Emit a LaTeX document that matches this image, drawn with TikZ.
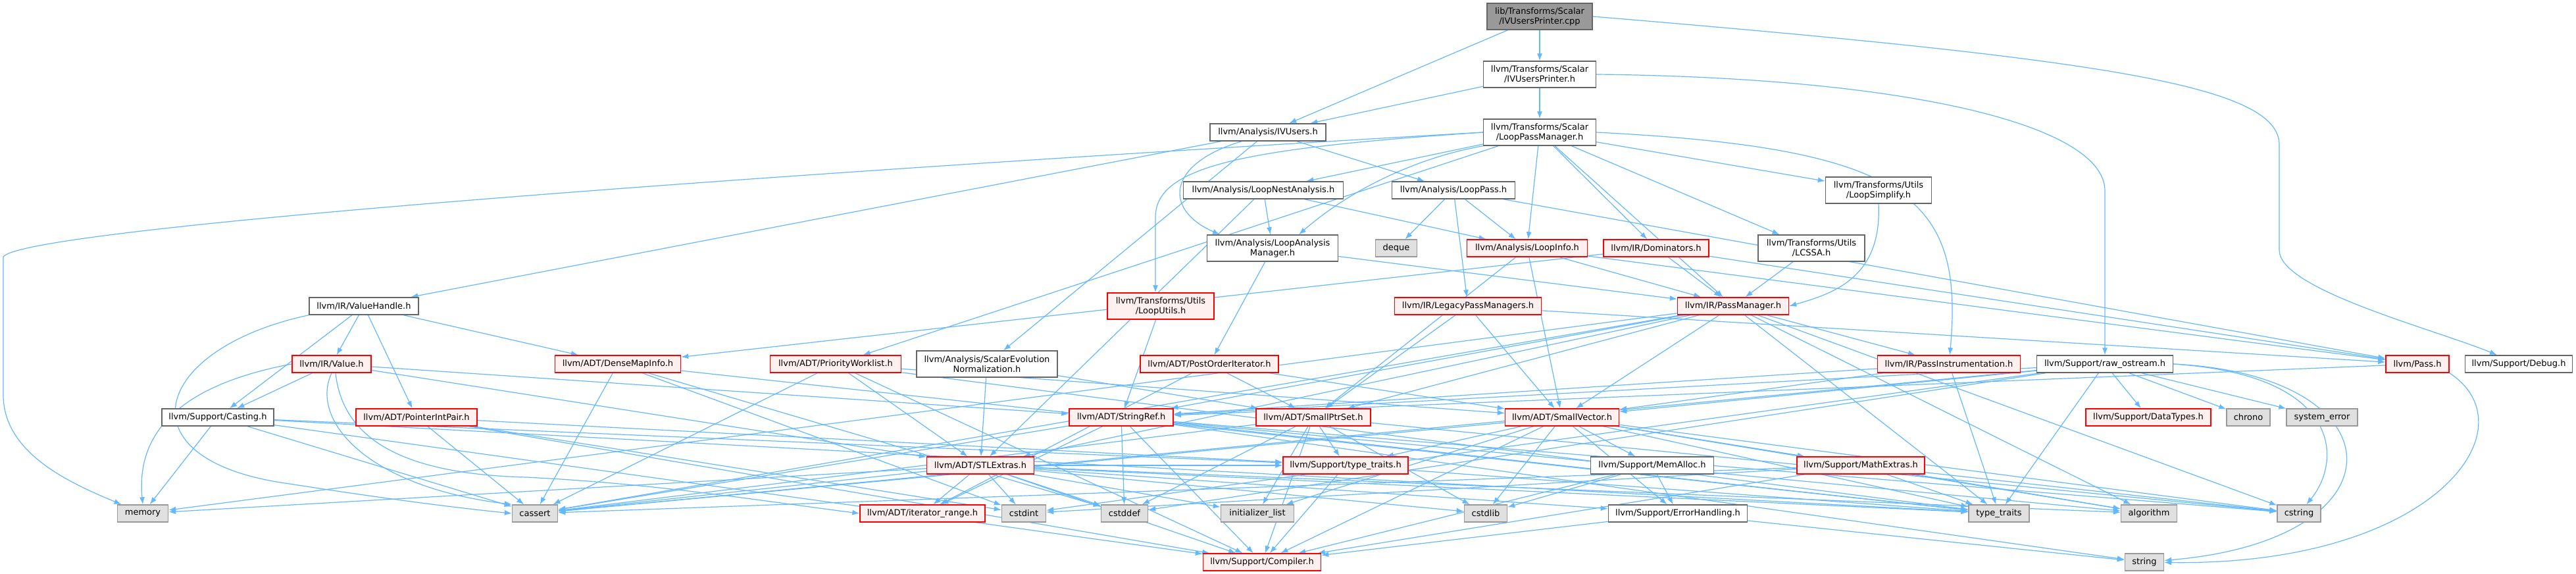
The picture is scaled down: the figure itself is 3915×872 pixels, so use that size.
\documentclass[tikz,border=0pt]{standalone}
\usepackage{fontspec}
\setmainfont{DejaVu Sans}
\usetikzlibrary{arrows.meta,backgrounds}
\definecolor{edgec}{HTML}{63B8FF}
\definecolor{pinkf}{HTML}{FFF0F0}
\definecolor{redd}{HTML}{FF0000}
\definecolor{greyd}{HTML}{666666}
\definecolor{sysf}{HTML}{E0E0E0}
\definecolor{sysd}{HTML}{999999}
\definecolor{rootf}{HTML}{999999}
\tikzset{
  base/.style={draw, line width=1.4pt, minimum height=26pt, inner sep=1pt, align=center, font=\fontsize{13}{15}\selectfont},
  wnode/.style={base, fill=white, draw=greyd},
  rnode/.style={base, fill=pinkf, draw=redd},
  snode/.style={base, fill=sysf, draw=sysd},
  rootn/.style={base, fill=rootf, draw=greyd},
  edge/.style={draw=edgec, line width=1.2pt, -{Latex[length=11pt,width=8pt]}},
}
\begin{document}
\begin{tikzpicture}[x=1pt,y=-1pt]
\useasboundingbox (0,0) rectangle (3915,872);
% rank 0-3
\node[rootn, minimum width=160pt, minimum height=40pt] (root) at (2340,25) {lib/Transforms/Scalar\\/IVUsersPrinter.cpp};
\node[wnode, minimum width=171pt, minimum height=40pt] (ivph) at (2340,113) {llvm/Transforms/Scalar\\/IVUsersPrinter.h};
\node[wnode, minimum width=171pt, minimum height=40pt] (lpm) at (2340,201) {llvm/Transforms/Scalar\\/LoopPassManager.h};
\node[wnode, minimum width=176pt] (ivu) at (1927,201) {llvm/Analysis/IVUsers.h};
\node[wnode, minimum width=243pt] (lna) at (1920,289) {llvm/Analysis/LoopNestAnalysis.h};
\node[wnode, minimum width=187pt] (lp) at (2209,289) {llvm/Analysis/LoopPass.h};
\node[wnode, minimum width=161pt, minimum height=40pt] (lsimp) at (2855,289) {llvm/Transforms/Utils\\/LoopSimplify.h};
\node[wnode, minimum width=199pt, minimum height=40pt] (lam) at (1934,377) {llvm/Analysis/LoopAnalysis\\Manager.h};
\node[snode, minimum width=63pt] (deque) at (2122,377) {deque};
\node[rnode, minimum width=183pt] (li) at (2321,377) {llvm/Analysis/LoopInfo.h};
\node[rnode, minimum width=160pt] (dom) at (2517,377) {llvm/IR/Dominators.h};
\node[wnode, minimum width=162pt, minimum height=40pt] (lcssa) at (2753,377) {llvm/Transforms/Utils\\/LCSSA.h};
% rank
\node[wnode, minimum width=166pt] (vh) at (553,465) {llvm/IR/ValueHandle.h};
\node[rnode, minimum width=162pt, minimum height=40pt] (lu) at (1764,465) {llvm/Transforms/Utils\\/LoopUtils.h};
\node[rnode, minimum width=223pt] (lpms) at (2231,465) {llvm/IR/LegacyPassManagers.h};
\node[rnode, minimum width=169pt] (pm) at (2634,465) {llvm/IR/PassManager.h};
% rank
\node[rnode, minimum width=120pt] (val) at (504,553) {llvm/IR/Value.h};
\node[rnode, minimum width=191pt] (dmi) at (939,553) {llvm/ADT/DenseMapInfo.h};
\node[rnode, minimum width=199pt] (pw) at (1270,553) {llvm/ADT/PriorityWorklist.h};
\node[wnode, minimum width=214pt, minimum height=40pt] (sen) at (1500,553) {llvm/Analysis/ScalarEvolution\\Normalization.h};
\node[rnode, minimum width=210pt] (poi) at (1838,553) {llvm/ADT/PostOrderIterator.h};
\node[rnode, minimum width=217pt] (pi) at (2962,553) {llvm/IR/PassInstrumentation.h};
\node[wnode, minimum width=207pt] (ros) at (3199,553) {llvm/Support/raw\_ostream.h};
\node[rnode, minimum width=96pt] (pass) at (3674,553) {llvm/Pass.h};
\node[wnode, minimum width=163pt] (dbg) at (3828,553) {llvm/Support/Debug.h};
% rank
\node[wnode, minimum width=170pt] (cast) at (331,634) {llvm/Support/Casting.h};
\node[rnode, minimum width=184pt] (pip) at (633,634) {llvm/ADT/PointerIntPair.h};
\node[rnode, minimum width=158pt] (sr) at (1704,634) {llvm/ADT/StringRef.h};
\node[rnode, minimum width=174pt] (sps) at (1996,634) {llvm/ADT/SmallPtrSet.h};
\node[rnode, minimum width=173pt] (sv) at (2374,634) {llvm/ADT/SmallVector.h};
\node[rnode, minimum width=190pt] (dt) at (3265,634) {llvm/Support/DataTypes.h};
\node[snode, minimum width=66pt] (chrono) at (3417,634) {chrono};
\node[snode, minimum width=108pt] (syserr) at (3529,634) {system\_error};
% rank
\node[rnode, minimum width=163pt] (stl) at (1490,707) {llvm/ADT/STLExtras.h};
\node[rnode, minimum width=190pt] (tt) at (2045,707) {llvm/Support/type\_traits.h};
\node[wnode, minimum width=187pt] (ma) at (2511,707) {llvm/Support/MemAlloc.h};
\node[rnode, minimum width=194pt] (me) at (2828,707) {llvm/Support/MathExtras.h};
% rank
\node[snode, minimum width=77pt] (mem) at (217,780) {memory};
\node[snode, minimum width=69pt] (cassert) at (813,780) {cassert};
\node[rnode, minimum width=190pt] (ir) at (1402,780) {llvm/ADT/iterator\_range.h};
\node[snode, minimum width=67pt] (cstdint) at (1556,780) {cstdint};
\node[snode, minimum width=71pt] (cstddef) at (1709,780) {cstddef};
\node[snode, minimum width=111pt] (il) at (1911,780) {initializer\_list};
\node[snode, minimum width=65pt] (cstdlib) at (2258,780) {cstdlib};
\node[wnode, minimum width=211pt] (eh) at (2550,780) {llvm/Support/ErrorHandling.h};
\node[snode, minimum width=92pt] (stdtt) at (3038,780) {type\_traits};
\node[snode, minimum width=85pt] (algo) at (3266,780) {algorithm};
\node[snode, minimum width=66pt] (cstring) at (3494,780) {cstring};
% rank
\node[rnode, minimum width=179pt] (comp) at (1918,854) {llvm/Support/Compiler.h};
\node[snode, minimum width=59pt] (string) at (3259,854) {string};

\begin{scope}[on background layer]
\fill[white] (0,0) rectangle (3915,872);
\foreach \a/\b in {root/ivph, root/ivu, ivph/lpm, ivph/ivu,
 lpm/pw, lpm/li, lpm/lna, lpm/pm, lpm/lcssa, lpm/lsimp, lpm/dom,
 ivu/lp, ivu/sen, ivu/vh,
 lna/stl, lna/lam, lna/li,
 lp/deque, lp/li, lp/lpms, lp/pass,
 lcssa/pm, lam/pm, lam/poi,
 li/sps, li/sv, li/pm, li/pass,
 dom/dmi, dom/pm, dom/pass,
 vh/dmi, vh/pip, vh/val, vh/cast,
 val/cast, val/stl, val/sr,
 cast/comp, cast/tt, cast/cassert, cast/mem, cast/stdtt,
 pip/comp, pip/tt, pip/cassert, pip/cstdint,
 dmi/cassert, dmi/cstddef, dmi/cstdint, dmi/stdtt,
 pw/stl, pw/sv, pw/comp, pw/cassert, pw/stdtt,
 sen/stl, sen/sps,
 poi/sps, poi/sv, poi/ir,
 lu/sr,
 lpms/sps, lpms/sv, lpms/pass,
 pm/stl, pm/sps, pm/sv, pm/sr, pm/pi, pm/cassert, pm/cstring, pm/mem, pm/stdtt, pm/algo,
 pi/sv, pi/sr, pi/stdtt,
 ros/sv, ros/sr, ros/dt, ros/cassert, ros/chrono, ros/cstddef, ros/cstdint, ros/syserr, ros/stdtt,
 pass/sr,
 sr/ir, sr/comp, sr/cassert, sr/cstddef, sr/algo, sr/cstring, sr/string, sr/stdtt,
 sps/tt, sps/comp, sps/cassert, sps/cstddef, sps/cstdlib, sps/cstring, sps/il,
 sv/ma, sv/me, sv/eh, sv/comp, sv/tt, sv/cstdlib, sv/cassert, sv/cstring, sv/il, sv/algo, sv/stdtt,
 stl/ir, stl/cstdint, stl/cstddef, stl/il, stl/algo, stl/cassert, stl/cstdlib, stl/mem, stl/stdtt, stl/eh, stl/tt, stl/comp,
 tt/comp, tt/stdtt,
 ma/cstdlib, ma/eh, ma/comp,
 eh/comp, eh/string,
 me/comp, me/cassert, me/cstdint, me/cstring, me/stdtt, me/algo}
 \draw[edge] (\a) -- (\b);
% curved connectors
\draw[edge] (lpm.west) .. controls (1200,262) and (40,345) .. (5,390) -- (5,600) .. controls (5,690) and (110,735) .. (mem);
\draw[edge] (root.east) .. controls (3200,90) and (3464,130) .. (3464,220) -- (3464,380) .. controls (3464,440) and (3700,500) .. (dbg);
\draw[edge] (ivph.east) .. controls (2900,118) and (3199,190) .. (3199,290) -- (ros);
\draw[edge] (pass.south east) .. controls (3850,650) and (3700,860) .. (string);
\draw[edge] (ros.east) .. controls (3650,570) and (3660,820) .. (string);
\draw[edge] (ros.east) .. controls (3560,570) and (3560,700) .. (cstring);
\draw[edge] (lsimp.south) .. controls (2860,420) and (2790,445) .. (pm.east);
\draw[edge] (lpm.east) .. controls (2900,225) and (2985,300) .. (pi);
\draw[edge] ([xshift=-40pt]ivu.south) .. controls (1770,250) and (1770,320) .. ([xshift=-80pt]lam.north);
\draw[edge] (lpm.west) .. controls (1900,225) and (1756,250) .. (1756,330) -- ([xshift=-8pt]lu.north);
\draw[edge] (lpm.south west) .. controls (2150,240) and (2050,290) .. ([xshift=40pt]lam.north);
\draw[edge] (vh.south west) .. controls (230,530) and (180,700) .. (440,735) .. controls (600,760) and (700,772) .. (cassert.west);
\draw[edge] (val.west) .. controls (300,580) and (205,640) .. (mem.north);
\draw[edge] (val.south) .. controls (470,640) and (560,740) .. (cassert.north west);
\draw[edge] ([xshift=6pt]val.south) .. controls (520,660) and (600,720) .. (800,725) .. controls (1000,735) and (1150,760) .. (ir.west);
\end{scope}
\end{tikzpicture}
\end{document}
